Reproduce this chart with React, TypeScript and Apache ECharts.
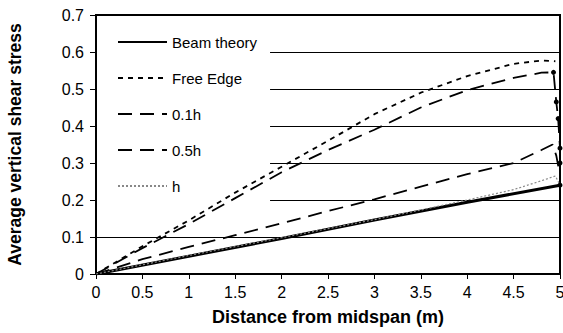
import React, { useEffect, useRef } from "react";
import * as echarts from "echarts";

const seriesNames = ["Beam theory", "Free Edge", "0.1h", "0.5h", "h"];
const xTickLabels = ["0", "0.5", "1", "1.5", "2", "2.5", "3", "3.5", "4", "4.5", "5"];

const beamX = [0, 1, 2, 3, 4, 5];
const beamY = [0, 0.048, 0.096, 0.146, 0.194, 0.24];

const freeEdgeX = [0, 0.5, 1, 1.5, 2, 2.5, 3, 3.5, 4, 4.5, 4.8, 4.95];
const freeEdgeY = [0, 0.075, 0.145, 0.22, 0.29, 0.36, 0.432, 0.49, 0.535, 0.568, 0.577, 0.575];

const h01X = [0, 0.5, 1, 1.5, 2, 2.5, 3, 3.5, 4, 4.5, 4.8, 4.93, 4.96, 4.98, 5, 5, 5, 5];
const h01Y = [0, 0.07, 0.135, 0.205, 0.275, 0.335, 0.39, 0.45, 0.497, 0.53, 0.544, 0.545, 0.465, 0.42, 0.34, 0.3, 0.24, 0.14];
const h01Markers = [false, false, false, false, false, false, false, false, false, false, false, true, true, true, true, true, true, false];

const h05X = [0, 0.5, 1, 1.5, 2, 2.5, 3, 3.5, 4, 4.5, 4.8, 4.92, 4.96, 4.99];
const h05Y = [0, 0.04, 0.073, 0.105, 0.137, 0.17, 0.202, 0.236, 0.27, 0.3, 0.335, 0.35, 0.32, 0.28];

const hX = [0, 1, 2, 3, 3.5, 4, 4.5, 4.8, 4.95, 5];
const hY = [0, 0.05, 0.098, 0.147, 0.173, 0.2, 0.228, 0.252, 0.265, 0.24];

const FONT = "'Liberation Sans', Arial, Helvetica, sans-serif";

function pairs(xs: number[], ys: number[]) {
  return xs.map((x, i) => [x, ys[i]]);
}

export default function App() {
  const ref = useRef<HTMLDivElement>(null);
  useEffect(() => {
    if (!ref.current) return;
    const chart = echarts.init(ref.current, undefined, { renderer: "svg" });
    const lineBase = { type: "line", showSymbol: false, symbol: "none", z: 3, emphasis: { disabled: true } };
    chart.setOption({
      animation: false,
      textStyle: { fontFamily: FONT },
      grid: {
        left: 96,
        right: 3,
        top: 15,
        bottom: 59,
        show: true,
        borderColor: "#000",
        borderWidth: 2,
        backgroundColor: "transparent",
        containLabel: false,
        outerBoundsMode: "none",
        z: 0,
      },
      legend: {
        orient: "vertical",
        left: 97,
        top: 24,
        padding: [10, 13, 10, 20],
        backgroundColor: "#fff",
        itemWidth: 49,
        itemHeight: 14,
        itemGap: 20,
        z: 1,
        selectedMode: false,
        itemStyle: { opacity: 0 },
        textStyle: { fontFamily: FONT, fontSize: 15, color: "#000", lineHeight: 16 },
        data: seriesNames,
      },
      xAxis: {
        type: "value",
        min: 0,
        max: 5,
        interval: 0.5,
        z: 0,
        name: "Distance from midspan (m)",
        nameLocation: "middle",
        nameGap: 34,
        nameTextStyle: { fontFamily: FONT, fontSize: 18, fontWeight: "bold", color: "#000" },
        axisLine: { show: true, lineStyle: { color: "#000", width: 2 } },
        axisTick: { show: true, inside: false, length: 5, lineStyle: { color: "#000", width: 1 } },
        axisLabel: {
          fontFamily: FONT,
          fontSize: 16,
          color: "#000",
          margin: 10,
          formatter: (v: number) => xTickLabels[Math.round(v * 2)] ?? String(v),
        },
        splitLine: { show: false },
      },
      yAxis: {
        type: "value",
        min: 0,
        max: 0.7,
        interval: 0.1,
        z: 0,
        name: "Average vertical shear stress",
        nameLocation: "middle",
        nameGap: 72,
        nameTextStyle: { fontFamily: FONT, fontSize: 17.5, fontWeight: "bold", color: "#000" },
        axisLine: { show: true, lineStyle: { color: "#000", width: 2 } },
        axisTick: { show: true, inside: false, length: 6, lineStyle: { color: "#000", width: 1 } },
        axisLabel: {
          fontFamily: FONT,
          fontSize: 16,
          color: "#000",
          margin: 12,
          formatter: (v: number) => (Math.round(v * 10) / 10).toString(),
        },
        splitLine: { show: true, lineStyle: { color: "#000", width: 1 } },
      },
      series: [
        {
          ...lineBase,
          name: "Beam theory",
          data: pairs(beamX, beamY),
          lineStyle: { color: "#000", width: 3, type: "solid" },
          itemStyle: { color: "#000" },
        },
        {
          ...lineBase,
          name: "Free Edge",
          data: pairs(freeEdgeX, freeEdgeY),
          lineStyle: { color: "#000", width: 1.8, type: [5, 5] },
          itemStyle: { color: "#000" },
        },
        {
          ...lineBase,
          name: "0.1h",
          showSymbol: true,
          data: h01X.map((x, i) =>
            h01Markers[i]
              ? { value: [x, h01Y[i]], symbol: "circle", symbolSize: 5 }
              : { value: [x, h01Y[i]] }
          ),
          lineStyle: { color: "#000", width: 1.8, type: [14, 8] },
          itemStyle: { color: "#000" },
        },
        {
          ...lineBase,
          name: "0.5h",
          data: pairs(h05X, h05Y),
          lineStyle: { color: "#000", width: 1.8, type: [14, 8] },
          itemStyle: { color: "#000" },
        },
        {
          ...lineBase,
          name: "h",
          data: pairs(hX, hY),
          lineStyle: { color: "#888", width: 1.2, type: [2, 2] },
          itemStyle: { color: "#888" },
        },
      ],
    });
    return () => chart.dispose();
  }, []);
  return (
    <div
      ref={ref}
      style={{ position: "fixed", left: 0, top: 0, width: 563, height: 333, background: "#fff" }}
    />
  );
}
